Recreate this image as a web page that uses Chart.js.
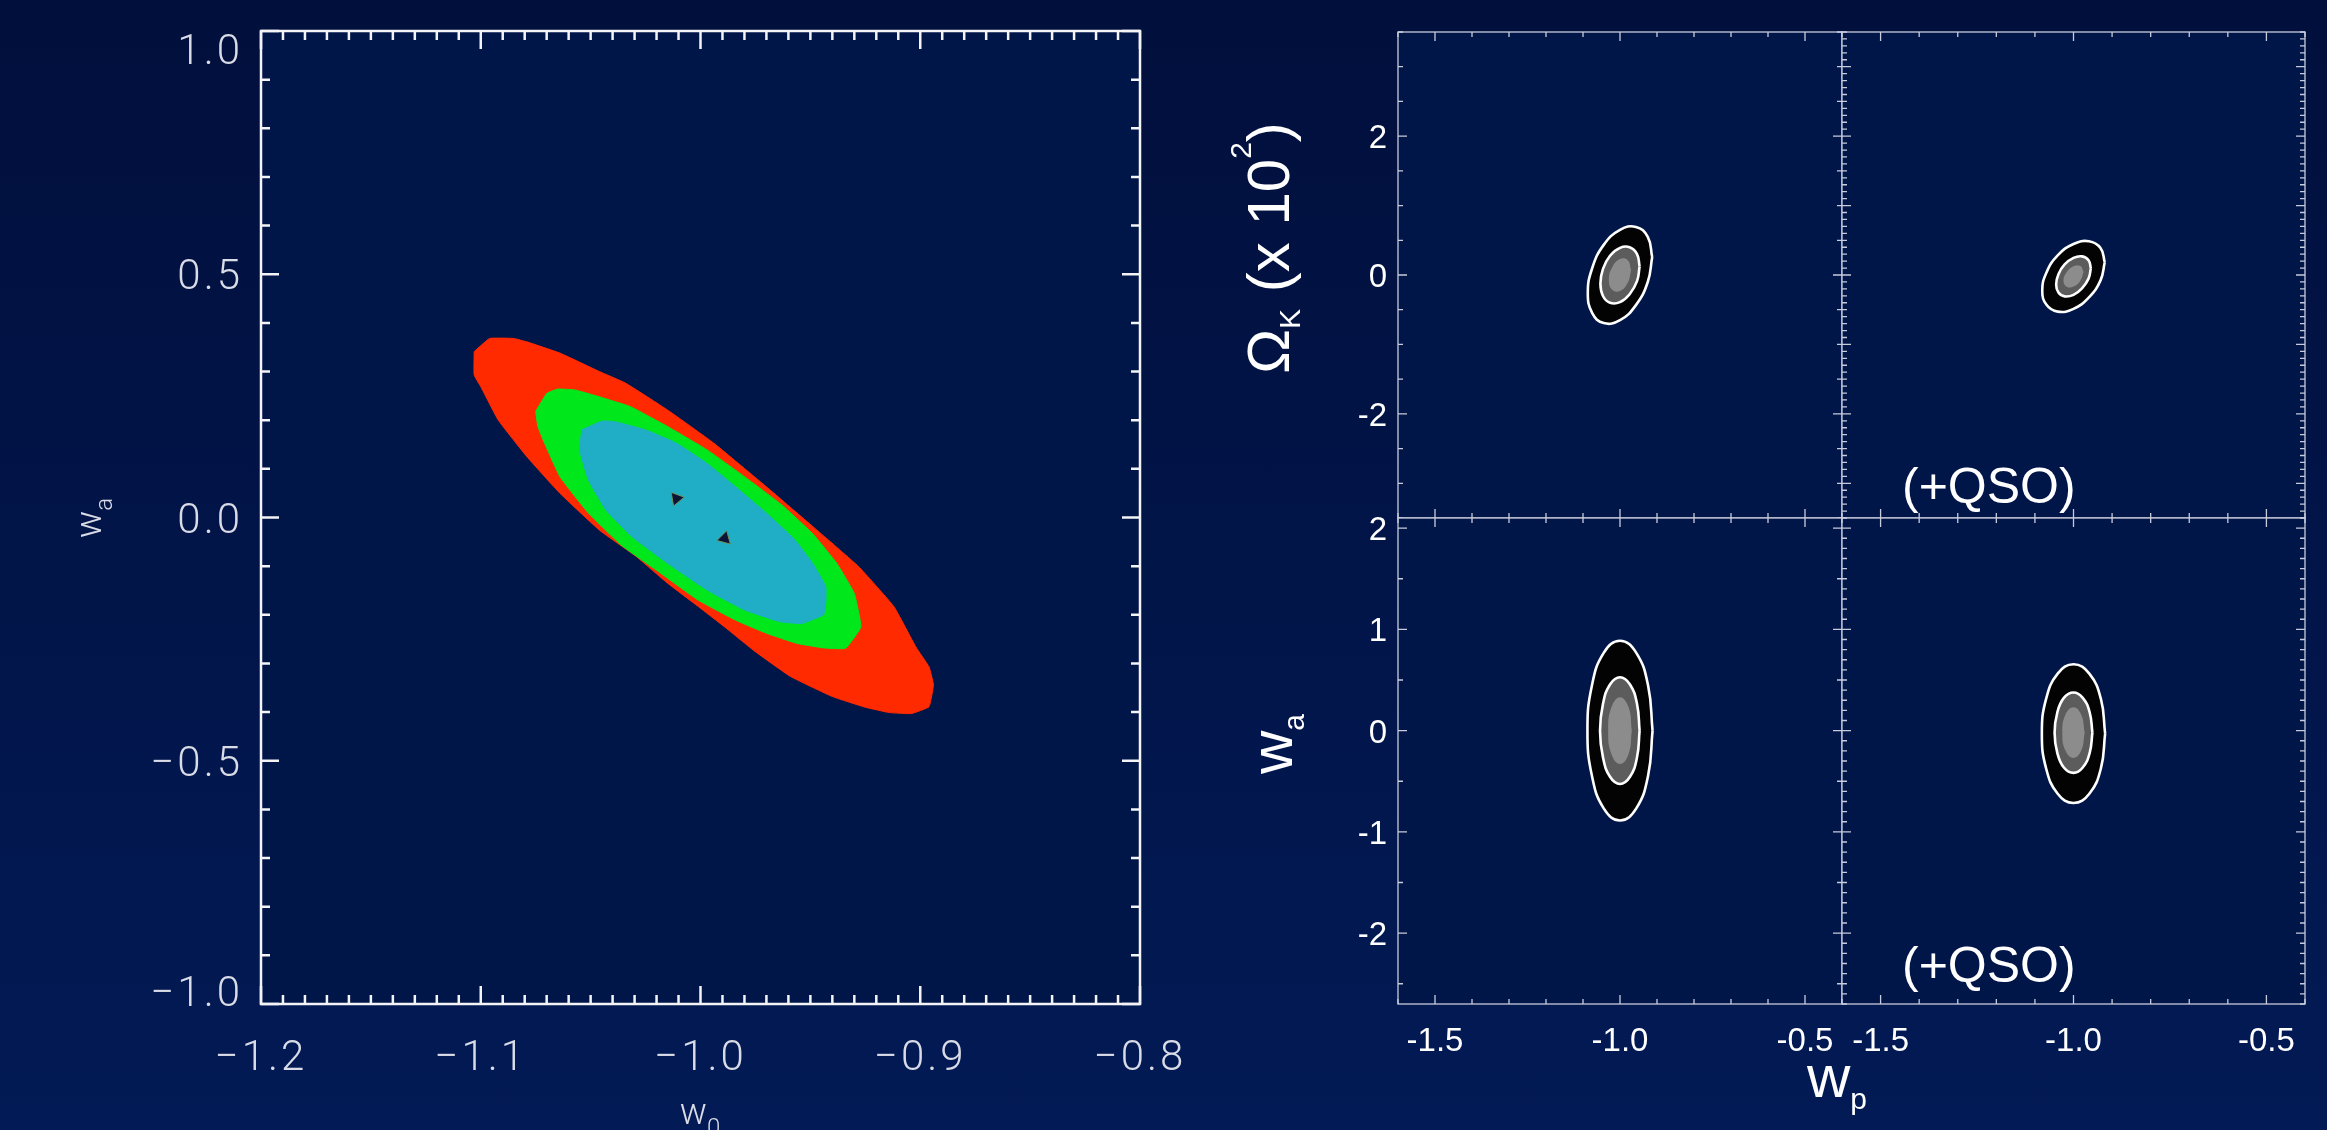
<!DOCTYPE html>
<html>
<head>
<meta charset="utf-8">
<script src="https://cdn.jsdelivr.net/npm/chart.js@4.4.1/dist/chart.umd.min.js"></script>
<style>
html, body { margin: 0; padding: 0; }
body { width: 2327px; height: 1130px; overflow: hidden; background: linear-gradient(180deg, #010f3c 0%, #021a55 100%); }
#wrap { position: relative; width: 2327px; height: 1130px; }
canvas { position: absolute; }
</style>
</head>
<body>
<div id="wrap">
  <canvas id="main"></canvas>
  <canvas id="tl"></canvas>
  <canvas id="tr"></canvas>
  <canvas id="bl"></canvas>
  <canvas id="br"></canvas>
</div>
<script>
// ---- left panel: w0 / wa confidence regions ----
const w0Ticks = [-1.2, -1.1, -1.0, -0.9, -0.8];
const w0Labels = ['\u22121.2', '\u22121.1', '\u22121.0', '\u22120.9', '\u22120.8'];
const waTicks = [1.0, 0.5, 0.0, -0.5, -1.0];
const waLabels = ['1.0', '0.5', '0.0', '\u22120.5', '\u22121.0'];

const red = [[-1.103,0.341],[-1.096,0.368],[-1.085,0.368],[-1.079,0.361],[-1.064,0.338],[-1.046,0.300],[-1.034,0.276],
  [-1.015,0.221],[-0.994,0.153],[-0.970,0.063],[-0.947,-0.026],[-0.928,-0.101],[-0.912,-0.183],[-0.902,-0.266],
  [-0.896,-0.307],[-0.894,-0.344],[-0.896,-0.389],[-0.904,-0.403],[-0.914,-0.401],[-0.925,-0.390],[-0.940,-0.368],
  [-0.959,-0.327],[-0.975,-0.276],[-0.989,-0.225],[-1.001,-0.183],[-1.015,-0.135],[-1.029,-0.081],[-1.046,-0.026],
  [-1.064,0.050],[-1.079,0.125],[-1.092,0.200],[-1.100,0.269],[-1.103,0.293]];
const green = [[-1.075,0.218],[-1.070,0.255],[-1.065,0.264],[-1.057,0.262],[-1.046,0.248],[-1.032,0.228],[-1.015,0.187],
  [-0.997,0.139],[-0.980,0.084],[-0.963,0.026],[-0.949,-0.033],[-0.938,-0.094],[-0.930,-0.156],[-0.927,-0.225],
  [-0.934,-0.269],[-0.944,-0.268],[-0.956,-0.259],[-0.970,-0.238],[-0.984,-0.211],[-1.001,-0.170],[-1.018,-0.115],
  [-1.036,-0.057],[-1.051,0.009],[-1.064,0.084],[-1.071,0.153],[-1.074,0.187]];
const cyan = [[-1.054,0.180],[-1.045,0.198],[-1.039,0.197],[-1.025,0.180],[-1.011,0.153],[-0.997,0.111],[-0.984,0.063],
  [-0.970,0.009],[-0.957,-0.046],[-0.949,-0.094],[-0.943,-0.142],[-0.943,-0.176],[-0.944,-0.200],[-0.954,-0.218],
  [-0.964,-0.214],[-0.980,-0.190],[-0.997,-0.149],[-1.015,-0.094],[-1.031,-0.040],[-1.043,0.015],[-1.051,0.077],[-1.055,0.139]];
const bestFit = [[-1.011, 0.039], [-0.989, -0.043]];
const bestFitRot = [80, 15];

// ---- right panels: wp vs Omega_k (x100) and wp vs wa ----
const wpTicks = [-1.5, -1.0, -0.5];
const wpLabels = ['-1.5', '-1.0', '-0.5'];
const okTicks = [-2, 0, 2];
const okLabels = ['-2', '0', '2'];
const waSmallTicks = [-2, -1, 0, 1, 2];
const waSmallLabels = ['-2', '-1', '0', '1', '2'];
const unitTicks = [-3, -2, -1, 0, 1, 2, 3];

const tlOuter = [[-0.913,0.259],[-0.925,0.549],[-0.957,0.693],[-1.0,0.650],[-1.044,0.434],[-1.075,0.101],
  [-1.087,-0.259],[-1.075,-0.549],[-1.044,-0.693],[-1.0,-0.650],[-0.957,-0.434],[-0.925,-0.101]];
const tlInner = [[-0.947,0.123],[-0.954,0.302],[-0.974,0.400],[-1.0,0.391],[-1.027,0.277],[-1.046,0.089],
  [-1.053,-0.123],[-1.046,-0.302],[-1.027,-0.400],[-1.0,-0.391],[-0.974,-0.277],[-0.954,-0.089]];
const tlCore = [[-0.970,0.072],[-0.979,0.213],[-1.0,0.229],[-1.021,0.111],[-1.030,-0.072],[-1.021,-0.213],[-1.0,-0.229],[-0.979,-0.111]];

const trOuter = [[-0.919,0.184],[-0.930,0.390],[-0.960,0.487],[-1.0,0.447],[-1.041,0.283],[-1.070,0.037],
  [-1.081,-0.224],[-1.070,-0.430],[-1.041,-0.527],[-1.0,-0.487],[-0.960,-0.323],[-0.930,-0.077]];
const trInner = [[-0.955,0.096],[-0.961,0.213],[-0.978,0.268],[-1.0,0.246],[-1.023,0.152],[-1.039,0.012],
  [-1.045,-0.136],[-1.039,-0.253],[-1.023,-0.308],[-1.0,-0.286],[-0.978,-0.192],[-0.961,-0.052]];
const trCore = [[-0.974,0.044],[-0.982,0.129],[-1.0,0.127],[-1.018,0.038],[-1.026,-0.084],[-1.018,-0.169],[-1.0,-0.167],[-0.982,-0.078]];

const blOuter = [[-0.912,0],[-0.924,0.444],[-0.956,0.768],[-1.0,0.887],[-1.044,0.768],[-1.076,0.444],
  [-1.088,0],[-1.076,-0.444],[-1.044,-0.768],[-1.0,-0.887],[-0.956,-0.768],[-0.924,-0.444]];
const blInner = [[-0.947,0],[-0.954,0.264],[-0.973,0.456],[-1.0,0.527],[-1.027,0.456],[-1.046,0.264],
  [-1.054,0],[-1.046,-0.264],[-1.027,-0.456],[-1.0,-0.527],[-0.973,-0.456],[-0.954,-0.264]];
const blCore = [[-0.968,0],[-0.977,0.233],[-1.0,0.33],[-1.023,0.233],[-1.032,0],[-1.023,-0.233],[-1.0,-0.33],[-0.977,-0.233]];

const brOuter = [[-0.918,-0.03],[-0.929,0.313],[-0.959,0.563],[-1.0,0.655],[-1.041,0.563],[-1.071,0.313],
  [-1.082,-0.03],[-1.071,-0.373],[-1.041,-0.623],[-1.0,-0.715],[-0.959,-0.623],[-0.929,-0.373]];
const brInner = [[-0.951,-0.02],[-0.958,0.179],[-0.976,0.324],[-1.0,0.377],[-1.025,0.324],[-1.042,0.179],
  [-1.049,-0.02],[-1.042,-0.219],[-1.025,-0.364],[-1.0,-0.417],[-0.976,-0.364],[-0.958,-0.219]];
const brCore = [[-0.971,-0.02],[-0.980,0.157],[-1.0,0.23],[-1.021,0.157],[-1.029,-0.02],[-1.021,-0.197],[-1.0,-0.27],[-0.980,-0.197]];

// ---- helpers ----
const closed = a => a.concat([a[0]]).map(([x, y]) => ({x, y}));

const steps = (min, max, step) => {
  const out = [];
  for (let k = Math.ceil(min / step - 1e-6); k * step <= max + 1e-6; k++) out.push(k * step);
  return out;
};

function rich(ctx, parts, x, y, rot) {
  ctx.save();
  ctx.translate(x, y);
  if (rot) ctx.rotate(-Math.PI / 2);
  let w = 0;
  parts.forEach(p => { ctx.font = p.font; w += ctx.measureText(p.t).width; });
  let cx = -w / 2;
  ctx.textAlign = 'left';
  ctx.textBaseline = 'alphabetic';
  parts.forEach(p => {
    ctx.font = p.font;
    ctx.fillText(p.t, cx, p.dy || 0);
    cx += ctx.measureText(p.t).width;
  });
  ctx.restore();
}

// box, inward ticks, labels and titles drawn from the chart's own scales
function frame(c) {
  return {
    id: 'frame',
    beforeDraw(chart) {
      const {ctx, chartArea: a} = chart;
      ctx.save();
      ctx.fillStyle = c.bg;
      ctx.fillRect(a.left, a.top, a.right - a.left, a.bottom - a.top);
      ctx.restore();
    },
    afterDraw(chart) {
      const {ctx, chartArea: a, scales: {x, y}} = chart;
      const inX = v => v >= x.min - 1e-9 && v <= x.max + 1e-9;
      const inY = v => v >= y.min - 1e-9 && v <= y.max + 1e-9;
      ctx.save();
      ctx.strokeStyle = c.color;
      ctx.lineWidth = c.lw;
      ctx.beginPath();
      const xt = (v, len) => {
        const p = x.getPixelForValue(v);
        ctx.moveTo(p, a.bottom); ctx.lineTo(p, a.bottom - len);
        ctx.moveTo(p, a.top); ctx.lineTo(p, a.top + len);
      };
      const yt = (v, len) => {
        const p = y.getPixelForValue(v);
        ctx.moveTo(a.left, p); ctx.lineTo(a.left + len, p);
        ctx.moveTo(a.right, p); ctx.lineTo(a.right - len, p);
      };
      steps(x.min, x.max, c.xMinor).forEach(v => xt(v, c.minorLen));
      c.xTicks.filter(inX).forEach(v => xt(v, c.majorLen));
      steps(y.min, y.max, c.yMinor).forEach(v => yt(v, c.minorLen));
      c.yTicks.filter(inY).forEach(v => yt(v, c.majorLen));
      ctx.stroke();
      ctx.strokeRect(a.left, a.top, a.right - a.left, a.bottom - a.top);

      ctx.fillStyle = c.labelColor;
      ctx.font = c.font;
      ctx.letterSpacing = c.spacing || '0px';
      if (c.xLabels) {
        ctx.textAlign = 'center';
        ctx.textBaseline = 'alphabetic';
        c.xTicks.forEach((v, i) => {
          if (inX(v)) ctx.fillText(c.xLabels[i], x.getPixelForValue(v), a.bottom + c.xBase);
        });
      }
      if (c.yLabels) {
        ctx.textAlign = 'right';
        ctx.textBaseline = 'alphabetic';
        c.yTicks.forEach((v, i) => {
          if (!inY(v)) return;
          let b = y.getPixelForValue(v) + c.yShift;
          if (c.yClamp) b = Math.min(Math.max(b, a.top + c.yClamp[0]), a.bottom + c.yClamp[1]);
          ctx.fillText(c.yLabels[i], a.left - c.yGap, b);
        });
      }
      ctx.letterSpacing = '0px';
      (c.titles || []).forEach(t => rich(ctx, t.parts, t.x - c.ox, t.y - c.oy, t.rot));
      (c.notes || []).forEach(n => {
        ctx.font = n.font;
        ctx.textAlign = 'left';
        ctx.textBaseline = 'alphabetic';
        ctx.fillText(n.text, n.x - c.ox, n.y - c.oy);
      });
      ctx.restore();
    }
  };
}

function panel(id, box, pad, xr, yr, datasets, c) {
  const cv = document.getElementById(id);
  cv.width = box[2];
  cv.height = box[3];
  cv.style.left = box[0] + 'px';
  cv.style.top = box[1] + 'px';
  c.ox = box[0];
  c.oy = box[1];
  return new Chart(cv.getContext('2d'), {
    type: 'line',
    data: {datasets},
    options: {
      responsive: false,
      animation: false,
      events: [],
      layout: {padding: pad, autoPadding: false},
      scales: {
        x: {type: 'linear', display: false, min: xr[0], max: xr[1]},
        y: {type: 'linear', display: false, min: yr[0], max: yr[1]}
      },
      plugins: {legend: {display: false}, tooltip: {enabled: false}}
    },
    plugins: [frame(c)]
  });
}

const region = (pts, color, order) => ({
  data: closed(pts), fill: 'shape', backgroundColor: color, borderColor: color,
  borderWidth: 1, pointRadius: 0, tension: 0.1, order
});
const ring = (pts, color, line, order) => ({
  data: closed(pts), fill: 'shape', backgroundColor: color,
  borderColor: line ? '#ffffff' : color, borderWidth: line ? 2.6 : 0,
  borderJoinStyle: 'round', pointRadius: 0, tension: 0.45, order
});
const blob = (outer, inner, core) => [
  ring(outer, '#030303', true, 3),
  ring(inner, '#5c5c5c', true, 2),
  ring(core, '#8c8c8c', false, 1)
];

const thin = '300 42px Roboto, "DejaVu Sans", sans-serif';
const thinSmall = s => '300 ' + s + 'px Roboto, "DejaVu Sans", sans-serif';
const sans = s => s + 'px "Liberation Sans", Arial, sans-serif';

// left panel
panel('main', [0, 0, 1200, 1130], {left: 261, top: 31, right: 60, bottom: 126}, [-1.2, -0.8], [-1.0, 1.0], [
  region(red, '#ff2a00', 4),
  region(green, '#00e81c', 3),
  region(cyan, '#1faec6', 2),
  {data: bestFit.map(([x, y]) => ({x, y})), showLine: false, pointStyle: 'triangle', pointRadius: 8,
   pointRotation: bestFitRot, pointBackgroundColor: '#0b1436', pointBorderColor: '#6f8f5a', pointBorderWidth: 1, order: 1}
], {
  bg: '#001548', color: '#f4f4f6', lw: 2.5,
  xTicks: w0Ticks, xLabels: w0Labels, xMinor: 0.01,
  yTicks: waTicks, yLabels: waLabels, yMinor: 0.1,
  majorLen: 18, minorLen: 9,
  font: thin, spacing: '3px', labelColor: '#d9dbe6',
  xBase: 66, yGap: 18, yShift: 15, yClamp: [33, 2],
  titles: [
    {parts: [{t: 'w', font: thinSmall(36)}, {t: 'a', font: thinSmall(24), dy: 11}], x: 101, y: 518, rot: true},
    {parts: [{t: 'w', font: thinSmall(36)}, {t: '0', font: thinSmall(24), dy: 11}], x: 700, y: 1124, rot: false}
  ]
});

const small = {
  bg: '#001548', color: '#c8cbdb', lw: 1.3,
  xTicks: wpTicks, xMinor: 0.1, majorLen: 9, minorLen: 5,
  font: sans(33), labelColor: '#ffffff', xBase: 47, yGap: 11, yShift: 12
};
const titleFont = sans(60);
const subFont = sans(30);

panel('tl', [1200, 0, 650, 526], {left: 198, top: 32, right: 8, bottom: 8}, [-1.6, -0.4], [-3.5, 3.5],
  blob(tlOuter, tlInner, tlCore),
  Object.assign({}, small, {
    yTicks: okTicks, yLabels: okLabels, yMinor: 0.5,
    titles: [{parts: [{t: '\u03A9', font: titleFont}, {t: 'K', font: subFont, dy: 11},
      {t: ' (x 10', font: titleFont}, {t: '2', font: subFont, dy: -38}, {t: ')', font: titleFont}],
      x: 1289, y: 248, rot: true}]
  }));

panel('tr', [1830, 0, 497, 526], {left: 12, top: 32, right: 22, bottom: 8}, [-1.6, -0.4], [-3.5, 3.5],
  blob(trOuter, trInner, trCore),
  Object.assign({}, small, {
    yTicks: unitTicks, yMinor: 0.1,
    notes: [{text: '(+QSO)', font: sans(50), x: 1902, y: 503}]
  }));

panel('bl', [1200, 510, 700, 620], {left: 198, top: 8, right: 58, bottom: 126}, [-1.6, -0.4], [-2.7, 2.1],
  blob(blOuter, blInner, blCore),
  Object.assign({}, small, {
    xLabels: wpLabels,
    yTicks: waSmallTicks, yLabels: waSmallLabels, yMinor: 0.5,
    titles: [
      {parts: [{t: 'w', font: titleFont}, {t: 'a', font: subFont, dy: 12}], x: 1292, y: 744, rot: true},
      {parts: [{t: 'w', font: titleFont}, {t: 'p', font: subFont, dy: 12}], x: 1837, y: 1097, rot: false}
    ]
  }));

panel('br', [1830, 510, 497, 620], {left: 12, top: 8, right: 22, bottom: 126}, [-1.6, -0.4], [-2.7, 2.1],
  blob(brOuter, brInner, brCore),
  Object.assign({}, small, {
    xLabels: wpLabels,
    yTicks: unitTicks, yMinor: 0.1,
    notes: [{text: '(+QSO)', font: sans(50), x: 1902, y: 982}]
  }));
</script>
</body>
</html>
